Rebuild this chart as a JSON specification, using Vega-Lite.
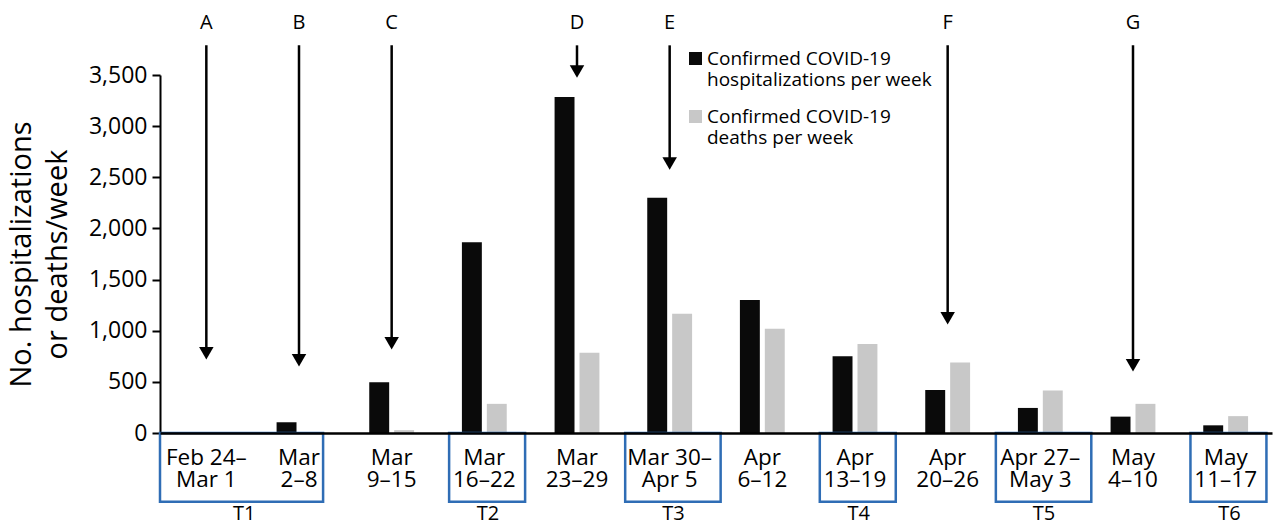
{
  "$schema": "https://vega.github.io/schema/vega-lite/v6.json",
  "width": 1112,
  "height": 358,
  "autosize": "none",
  "padding": {"left": 160, "top": 75, "right": 9, "bottom": 95},
  "background": "white",
  "config": {"font": "Open Sans", "view": {"stroke": null}},
  "datasets": {
    "counts": [
      {"week": "Feb 24–|Mar 1", "series": "Confirmed COVID-19|hospitalizations per week", "value": 0},
      {"week": "Feb 24–|Mar 1", "series": "Confirmed COVID-19|deaths per week", "value": 0},
      {"week": "Mar|2–8", "series": "Confirmed COVID-19|hospitalizations per week", "value": 105},
      {"week": "Mar|2–8", "series": "Confirmed COVID-19|deaths per week", "value": 0},
      {"week": "Mar|9–15", "series": "Confirmed COVID-19|hospitalizations per week", "value": 495},
      {"week": "Mar|9–15", "series": "Confirmed COVID-19|deaths per week", "value": 28},
      {"week": "Mar|16–22", "series": "Confirmed COVID-19|hospitalizations per week", "value": 1865},
      {"week": "Mar|16–22", "series": "Confirmed COVID-19|deaths per week", "value": 285},
      {"week": "Mar|23–29", "series": "Confirmed COVID-19|hospitalizations per week", "value": 3285},
      {"week": "Mar|23–29", "series": "Confirmed COVID-19|deaths per week", "value": 785},
      {"week": "Mar 30–|Apr 5", "series": "Confirmed COVID-19|hospitalizations per week", "value": 2300},
      {"week": "Mar 30–|Apr 5", "series": "Confirmed COVID-19|deaths per week", "value": 1165},
      {"week": "Apr|6–12", "series": "Confirmed COVID-19|hospitalizations per week", "value": 1300},
      {"week": "Apr|6–12", "series": "Confirmed COVID-19|deaths per week", "value": 1020},
      {"week": "Apr|13–19", "series": "Confirmed COVID-19|hospitalizations per week", "value": 750},
      {"week": "Apr|13–19", "series": "Confirmed COVID-19|deaths per week", "value": 870},
      {"week": "Apr|20–26", "series": "Confirmed COVID-19|hospitalizations per week", "value": 420},
      {"week": "Apr|20–26", "series": "Confirmed COVID-19|deaths per week", "value": 690},
      {"week": "Apr 27–|May 3", "series": "Confirmed COVID-19|hospitalizations per week", "value": 245},
      {"week": "Apr 27–|May 3", "series": "Confirmed COVID-19|deaths per week", "value": 415},
      {"week": "May|4–10", "series": "Confirmed COVID-19|hospitalizations per week", "value": 160},
      {"week": "May|4–10", "series": "Confirmed COVID-19|deaths per week", "value": 285},
      {"week": "May|11–17", "series": "Confirmed COVID-19|hospitalizations per week", "value": 75},
      {"week": "May|11–17", "series": "Confirmed COVID-19|deaths per week", "value": 165}
    ],
    "arrows": [
      {"label": "A", "week": "Feb 24–|Mar 1", "from": 3790, "to": 779},
      {"label": "B", "week": "Mar|2–8", "from": 3790, "to": 711},
      {"label": "C", "week": "Mar|9–15", "from": 3790, "to": 877},
      {"label": "D", "week": "Mar|23–29", "from": 3790, "to": 3534},
      {"label": "E", "week": "Mar 30–|Apr 5", "from": 3790, "to": 2635},
      {"label": "F", "week": "Apr|20–26", "from": 3790, "to": 1121},
      {"label": "G", "week": "May|4–10", "from": 3790, "to": 662}
    ],
    "periods": [
      {"period": "T1", "first": "Feb 24–|Mar 1", "last": "Mar|2–8"},
      {"period": "T2", "first": "Mar|16–22", "last": "Mar|16–22"},
      {"period": "T3", "first": "Mar 30–|Apr 5", "last": "Mar 30–|Apr 5"},
      {"period": "T4", "first": "Apr|13–19", "last": "Apr|13–19"},
      {"period": "T5", "first": "Apr 27–|May 3", "last": "Apr 27–|May 3"},
      {"period": "T6", "first": "May|11–17", "last": "May|11–17"}
    ]
  },
  "layer": [
    {
      "data": {"name": "counts"},
      "mark": {"type": "bar"},
      "encoding": {
        "x": {
          "field": "week", "type": "nominal",
          "scale": {
            "domain": ["Feb 24–|Mar 1", "Mar|2–8", "Mar|9–15", "Mar|16–22", "Mar|23–29", "Mar 30–|Apr 5", "Apr|6–12", "Apr|13–19", "Apr|20–26", "Apr 27–|May 3", "May|4–10", "May|11–17"],
            "paddingInner": 0, "paddingOuter": 0
          },
          "axis": {
            "title": null, "labelExpr": "split(datum.value, '|')", "labelFontSize": 22.5,
            "labelLineHeight": 22.5, "labelPadding": 13, "ticks": false, "domainColor": "black",
            "domainWidth": 2.5, "labelColor": "black", "labelAngle": 0, "labelBaseline": "top",
            "zindex": 1
          }
        },
        "xOffset": {
          "field": "series", "type": "nominal",
          "scale": {"domain": ["Confirmed COVID-19|hospitalizations per week", "Confirmed COVID-19|deaths per week"], "paddingInner": 0.2, "paddingOuter": 0.96}
        },
        "y": {
          "field": "value", "type": "quantitative",
          "scale": {"domain": [0, 3500], "nice": false},
          "axis": {
            "title": ["No. hospitalizations", "or deaths/week"],
            "values": [0, 500, 1000, 1500, 2000, 2500, 3000, 3500], "format": ",d",
            "labelFontSize": 23, "labelColor": "black", "labelPadding": 5,
            "tickSize": 8, "tickWidth": 2, "tickColor": "black",
            "domainColor": "black", "domainWidth": 2, "grid": false,
            "titleFontSize": 29, "titleFontWeight": "normal", "titleColor": "black",
            "titleLineHeight": 36, "titlePadding": 16
          }
        },
        "color": {
          "field": "series", "type": "nominal",
          "scale": {"domain": ["Confirmed COVID-19|hospitalizations per week", "Confirmed COVID-19|deaths per week"], "range": ["#0a0a0a", "#c8c8c8"]},
          "legend": {
            "orient": "none", "legendX": 526, "legendY": -26, "title": null, "padding": 0,
            "symbolType": "square", "symbolSize": 170, "symbolStrokeWidth": 0,
            "labelFontSize": 19, "labelLineHeight": 23, "labelColor": "black",
            "labelExpr": "split(datum.label, '|')", "labelLimit": 400, "labelOffset": 2,
            "rowPadding": 17, "labelBaseline": "middle"
          }
        }
      }
    },
    {
      "data": {"name": "arrows"},
      "mark": {"type": "rule", "strokeWidth": 2.5, "color": "black"},
      "encoding": {
        "x": {"field": "week", "type": "nominal"},
        "y": {"field": "from", "type": "quantitative"},
        "y2": {"field": "to"}
      }
    },
    {
      "data": {"name": "arrows"},
      "mark": {"type": "point", "shape": "triangle-down", "size": 210, "filled": true, "color": "black", "opacity": 1},
      "encoding": {
        "x": {"field": "week", "type": "nominal"},
        "y": {"field": "to", "type": "quantitative"}
      }
    },
    {
      "data": {"name": "arrows"},
      "mark": {"type": "text", "fontSize": 20, "baseline": "middle", "color": "black"},
      "encoding": {
        "x": {"field": "week", "type": "nominal"},
        "y": {"datum": 4008, "type": "quantitative"},
        "text": {"field": "label"}
      }
    },
    {
      "data": {"name": "periods"},
      "transform": [{"filter": {"field": "period", "equal": "T1"}}],
      "mark": {"type": "rect", "filled": false, "color": "#2f6db5", "strokeWidth": 2.5},
      "encoding": {
        "x": {"field": "first", "type": "nominal", "bandPosition": 0},
        "x2": {"field": "last", "bandPosition": 0.76},
        "y": {"datum": 0, "type": "quantitative"},
        "y2": {"datum": -672}
      }
    },
    {
      "data": {"name": "periods"},
      "transform": [{"filter": {"field": "period", "oneOf": ["T3", "T5"]}}],
      "mark": {"type": "rect", "filled": false, "color": "#2f6db5", "strokeWidth": 2.5},
      "encoding": {
        "x": {"field": "first", "type": "nominal", "bandPosition": 0.02},
        "x2": {"field": "last", "bandPosition": 1.05},
        "y": {"datum": 0, "type": "quantitative"},
        "y2": {"datum": -672}
      }
    },
    {
      "data": {"name": "periods"},
      "transform": [{"filter": {"field": "period", "oneOf": ["T2", "T4", "T6"]}}],
      "mark": {"type": "rect", "filled": false, "color": "#2f6db5", "strokeWidth": 2.5},
      "encoding": {
        "x": {"field": "first", "type": "nominal", "bandPosition": 0.12},
        "x2": {"field": "last", "bandPosition": 0.94},
        "y": {"datum": 0, "type": "quantitative"},
        "y2": {"datum": -672}
      }
    },
    {
      "data": {"name": "periods"},
      "transform": [{"filter": {"field": "period", "equal": "T1"}}],
      "mark": {"type": "text", "fontSize": 20, "baseline": "middle", "color": "black"},
      "encoding": {
        "x": {"field": "first", "type": "nominal", "bandPosition": 0.91},
        "y": {"datum": -795, "type": "quantitative"},
        "text": {"field": "period"}
      }
    },
    {
      "data": {"name": "periods"},
      "transform": [{"filter": {"field": "period", "oneOf": ["T2", "T3", "T4", "T5", "T6"]}}],
      "mark": {"type": "text", "fontSize": 20, "baseline": "middle", "color": "black"},
      "encoding": {
        "x": {"field": "first", "type": "nominal", "bandPosition": 0.54},
        "y": {"datum": -795, "type": "quantitative"},
        "text": {"field": "period"}
      }
    }
  ]
}
